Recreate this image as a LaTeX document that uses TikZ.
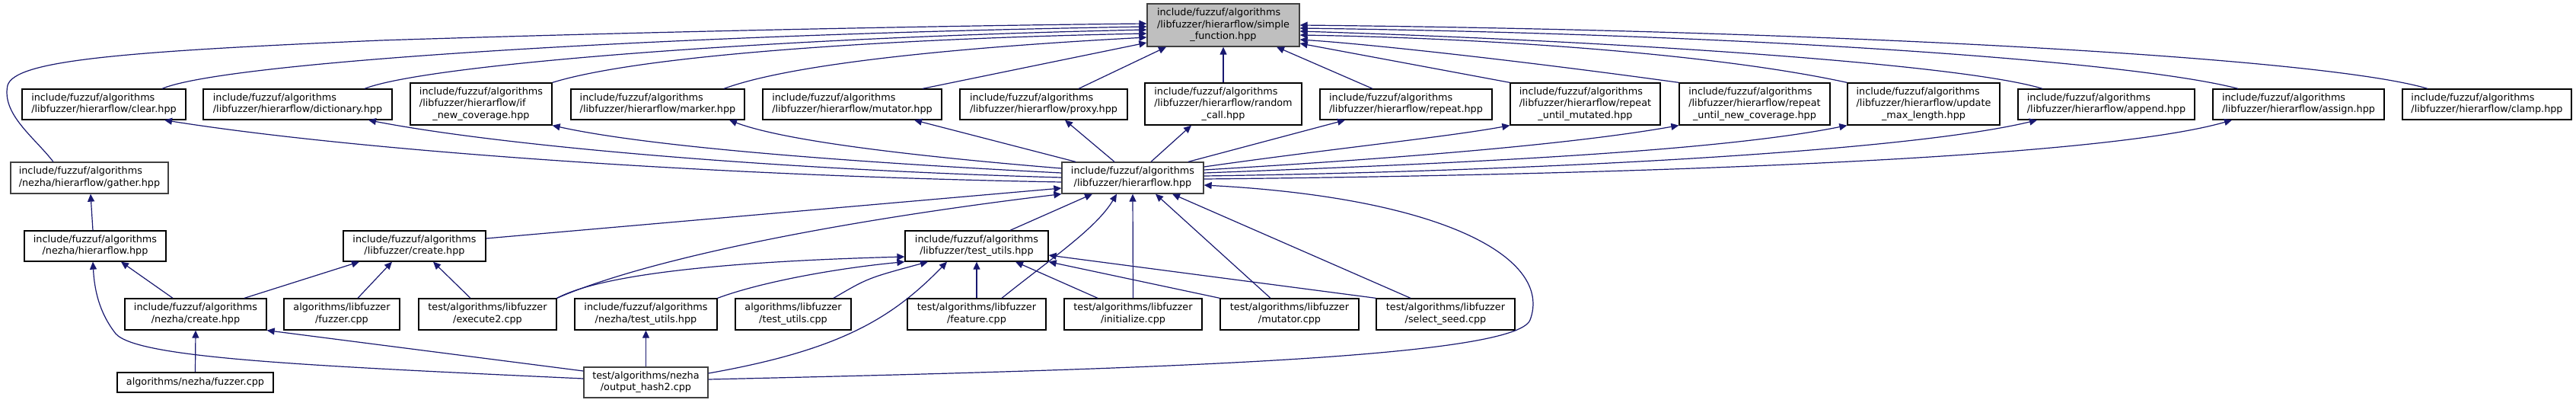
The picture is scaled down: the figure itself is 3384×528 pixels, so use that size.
\documentclass[tikz,border=0pt]{standalone}
\usepackage{fontspec}
\setmainfont{DejaVu Sans}
\usetikzlibrary{arrows.meta}
\definecolor{edgeblue}{HTML}{191970}
\definecolor{sfgray}{HTML}{BFBFBF}
\definecolor{sfborder}{HTML}{404040}
\newcommand\twol[2]{\begin{tabular}{@{}l@{}}#1\\\multicolumn{1}{@{}c@{}}{#2}\end{tabular}}
\newcommand\threel[3]{\begin{tabular}{@{}l@{}}#1\\#2\\\multicolumn{1}{@{}c@{}}{#3}\end{tabular}}
\tikzset{
  fn/.style 2 args={draw=black, line width=1.3pt, fill=white, inner sep=0pt, rectangle,
     minimum width=#1pt, minimum height=#2pt, font=\fontsize{12.8}{15.5}\selectfont},
  grayb/.style={draw=sfborder},
  e/.style={draw=edgeblue, line width=1.2pt, -{Triangle[length=10pt,width=9pt]}},
}
\begin{document}
\begin{tikzpicture}[x=1pt,y=-1pt]
\useasboundingbox[fill=white] (0,0) rectangle (3384,528);
% top
\node[fn={200}{56}, fill=sfgray, grayb] (SF) at (1607,33) {\threel{include/fuzzuf/algorithms}{/libfuzzer/hierarflow/simple}{\_function.hpp}};
% row 2
\node[fn={215}{40}] (clear) at (136.5,137) {\twol{include/fuzzuf/algorithms}{/libfuzzer/hierarflow/clear.hpp}};
\node[fn={248}{40}] (dict) at (391,137) {\twol{include/fuzzuf/algorithms}{/libfuzzer/hierarflow/dictionary.hpp}};
\node[fn={186}{55}] (ifnew) at (632,136.5) {\threel{include/fuzzuf/algorithms}{/libfuzzer/hierarflow/if}{\_new\_coverage.hpp}};
\node[fn={228}{40}] (marker) at (864,137) {\twol{include/fuzzuf/algorithms}{/libfuzzer/hierarflow/marker.hpp}};
\node[fn={235}{40}] (mutator) at (1119.5,137) {\twol{include/fuzzuf/algorithms}{/libfuzzer/hierarflow/mutator.hpp}};
\node[fn={220}{40}] (proxy) at (1371,137) {\twol{include/fuzzuf/algorithms}{/libfuzzer/hierarflow/proxy.hpp}};
\node[fn={206}{55}] (random) at (1607,136.5) {\threel{include/fuzzuf/algorithms}{/libfuzzer/hierarflow/random}{\_call.hpp}};
\node[fn={226}{40}] (repeat) at (1847,137) {\twol{include/fuzzuf/algorithms}{/libfuzzer/hierarflow/repeat.hpp}};
\node[fn={197}{55}] (rum) at (2082.5,136.5) {\threel{include/fuzzuf/algorithms}{/libfuzzer/hierarflow/repeat}{\_until\_mutated.hpp}};
\node[fn={198}{55}] (runc) at (2305,136.5) {\threel{include/fuzzuf/algorithms}{/libfuzzer/hierarflow/repeat}{\_until\_new\_coverage.hpp}};
\node[fn={200}{55}] (uml) at (2527,136.5) {\threel{include/fuzzuf/algorithms}{/libfuzzer/hierarflow/update}{\_max\_length.hpp}};
\node[fn={232}{40}] (append) at (2767,137) {\twol{include/fuzzuf/algorithms}{/libfuzzer/hierarflow/append.hpp}};
\node[fn={225}{40}] (assign) at (3019.5,137) {\twol{include/fuzzuf/algorithms}{/libfuzzer/hierarflow/assign.hpp}};
\node[fn={222}{40}] (clamp) at (3267,137) {\twol{include/fuzzuf/algorithms}{/libfuzzer/hierarflow/clamp.hpp}};
% row 3
\node[fn={207}{41}, grayb] (gather) at (117.5,233.5) {\twol{include/fuzzuf/algorithms}{/nezha/hierarflow/gather.hpp}};
\node[fn={186}{41}, grayb] (HF) at (1488,233.5) {\twol{include/fuzzuf/algorithms}{/libfuzzer/hierarflow.hpp}};
% row 4
\node[fn={186}{40}] (NH) at (125,323) {\twol{include/fuzzuf/algorithms}{/nezha/hierarflow.hpp}};
\node[fn={187}{40}] (LC) at (544.5,323) {\twol{include/fuzzuf/algorithms}{/libfuzzer/create.hpp}};
\node[fn={188}{40}] (TU) at (1283,323) {\twol{include/fuzzuf/algorithms}{/libfuzzer/test\_utils.hpp}};
% row 5
\node[fn={186}{41}] (NC) at (257,412.5) {\twol{include/fuzzuf/algorithms}{/nezha/create.hpp}};
\node[fn={152}{41}] (lfz) at (449,412.5) {\twol{algorithms/libfuzzer}{/fuzzer.cpp}};
\node[fn={181}{41}] (exe2) at (640.5,412.5) {\twol{test/algorithms/libfuzzer}{/execute2.cpp}};
\node[fn={187}{41}] (NTU) at (848.5,412.5) {\twol{include/fuzzuf/algorithms}{/nezha/test\_utils.hpp}};
\node[fn={152}{41}] (tuc) at (1042,412.5) {\twol{algorithms/libfuzzer}{/test\_utils.cpp}};
\node[fn={182}{41}] (feat) at (1283,412.5) {\twol{test/algorithms/libfuzzer}{/feature.cpp}};
\node[fn={181}{41}] (init) at (1488.5,412.5) {\twol{test/algorithms/libfuzzer}{/initialize.cpp}};
\node[fn={182}{41}] (mutc) at (1694,412.5) {\twol{test/algorithms/libfuzzer}{/mutator.cpp}};
\node[fn={182}{41}] (sel) at (1899,412.5) {\twol{test/algorithms/libfuzzer}{/select\_seed.cpp}};
% row 6
\node[fn={205}{26}] (nfz) at (256.5,502) {algorithms/nezha/fuzzer.cpp};
\node[fn={163}{40}, grayb] (OH) at (848.5,502) {\twol{test/algorithms/nezha}{/output\_hash2.cpp}};

% ---- edges into simple_function
\draw[e] ([xshift=-47.5pt]gather.north) .. controls (45,180) and (2,150) .. (10,112) .. controls (20,80) and (150,68) .. (500,53) .. controls (900,40) and (1300,33) .. ([yshift=2pt]SF.west);
\draw[e] ([xshift=76.5pt]clear.north) .. controls (300,80) and (900,45) .. ([yshift=-2pt]SF.west);
\draw[e] ([xshift=88pt]dict.north) .. controls (560,85) and (1000,50) .. ([yshift=-6pt]SF.west);
\draw[e] (ifnew.north east) .. controls (850,70) and (1200,50) .. ([yshift=-11pt]SF.west);
\draw[e] ([xshift=87pt]marker.north) .. controls (1050,80) and (1300,60) .. ([yshift=-16pt]SF.west);
\draw[e] ([xshift=92.5pt]mutator.north) -- ([yshift=-23pt]SF.west);
\draw[e] ([xshift=46pt]proxy.north) -- ([xshift=-75pt]SF.south);
\draw[e] (random.north) -- (SF.south);
\draw[e] ([xshift=-44pt]repeat.north) -- ([xshift=70pt]SF.south);
\draw[e] (rum.north west) -- ([yshift=-24pt]SF.east);
\draw[e] (runc.north west) .. controls (2000,80) and (1800,58) .. ([yshift=-19pt]SF.east);
\draw[e] (uml.north west) .. controls (2250,70) and (1950,50) .. ([yshift=-13pt]SF.east);
\draw[e] ([xshift=-84pt]append.north) .. controls (2580,85) and (2150,55) .. ([yshift=-8pt]SF.east);
\draw[e] ([xshift=-79.5pt]assign.north) .. controls (2800,80) and (2300,45) .. ([yshift=-4pt]SF.east);
\draw[e] ([xshift=-78pt]clamp.north) .. controls (3050,75) and (2400,40) .. (SF.east);

% ---- hierarflow.hpp includes row 2
\draw[e] ([yshift=-5.5pt]HF.west) .. controls (900,230) and (450,195) .. ([xshift=79.5pt]clear.south);
\draw[e] ([yshift=0.5pt]HF.west) .. controls (1000,222) and (650,190) .. ([xshift=93pt]dict.south);
\draw[e] ([yshift=6.5pt]HF.west) .. controls (1100,212) and (850,192) .. (ifnew.south east);
\draw[e] ([yshift=12.5pt]HF.west) .. controls (1200,205) and (1030,185) .. ([xshift=94pt]marker.south);
\draw[e] ([xshift=-75pt]HF.north) -- ([xshift=81.5pt]mutator.south);
\draw[e] ([xshift=-24pt]HF.north) -- ([xshift=28pt]proxy.south);
\draw[e] ([xshift=24pt]HF.north) -- ([xshift=-42pt]random.south);
\draw[e] ([xshift=73pt]HF.north) -- ([xshift=-80pt]repeat.south);
\draw[e] ([yshift=14.5pt]HF.east) .. controls (1750,195) and (1900,180) .. (rum.south west);
\draw[e] ([yshift=10.5pt]HF.east) .. controls (1800,210) and (2050,192) .. (runc.south west);
\draw[e] ([yshift=6.5pt]HF.east) .. controls (1900,215) and (2250,200) .. (uml.south west);
\draw[e] ([yshift=2.5pt]HF.east) .. controls (2000,225) and (2500,200) .. ([xshift=-91pt]append.south);
\draw[e] ([yshift=-1.5pt]HF.east) .. controls (2100,230) and (2750,210) .. ([xshift=-87.5pt]assign.south);

% ---- lower part
\draw[e] ([xshift=-3pt]NH.north) -- ([xshift=1.5pt]gather.south);
\draw[e] ([xshift=-30pt]NC.north) -- ([xshift=34pt]NH.south);
\draw[e] ([xshift=64pt]NC.north) -- ([xshift=-72.5pt]LC.south);
\draw[e] ([xshift=21pt]lfz.north) -- ([xshift=-29.5pt]LC.south);
\draw[e] ([xshift=-22.5pt]exe2.north) -- ([xshift=24.5pt]LC.south);
\draw[e] (nfz.north) -- (NC.south);
\draw[e] ([yshift=15pt]OH.west) -- (NC.south east);
\draw[e] ([yshift=5pt]OH.west) .. controls (400,480) and (180,470) .. (152,438) .. controls (130,410) and (124,380) .. ([xshift=-3pt]NH.south);
\draw[e] (OH.north) -- (NTU.south);
\draw[e] ([yshift=12pt]OH.east) .. controls (1100,460) and (1170,420) .. ([xshift=-39pt]TU.south);
\draw[e] ([yshift=4pt]OH.east) .. controls (1500,485) and (1990,470) .. (2010,420) .. controls (2040,340) and (1900,260) .. ([yshift=-9.5pt]HF.east);
\draw[e] ([yshift=10pt]LC.east) -- ([yshift=-13.5pt]HF.west);
\draw[e] (exe2.north east) .. controls (850,340) and (1100,290) .. (HF.south west);
\draw[e] (exe2.north east) .. controls (800,355) and (1000,342) .. ([yshift=-14pt]TU.west);
\draw[e] (NTU.north east) .. controls (1000,370) and (1100,352) .. (TU.south west);
\draw[e] ([xshift=53pt]tuc.north) .. controls (1140,365) .. ([xshift=-64pt]TU.south);
\draw[e] ([xshift=44pt]TU.north) -- ([xshift=-53pt]HF.south);
\draw[e] (feat.north) -- (TU.south);
\draw[e] ([xshift=33pt]feat.north) .. controls (1380,340) and (1440,300) .. ([xshift=-21pt]HF.south);
\draw[e] ([xshift=-46.5pt]init.north) -- ([xshift=51pt]TU.south);
\draw[e] (init.north) -- (HF.south);
\draw[e] (mutc.north west) -- (TU.south east);
\draw[e] ([xshift=-25pt]mutc.north) -- ([xshift=30pt]HF.south);
\draw[e] (sel.north west) -- ([yshift=-12pt]TU.east);
\draw[e] ([xshift=-46pt]sel.north) -- ([xshift=52pt]HF.south);
\end{tikzpicture}
\end{document}
